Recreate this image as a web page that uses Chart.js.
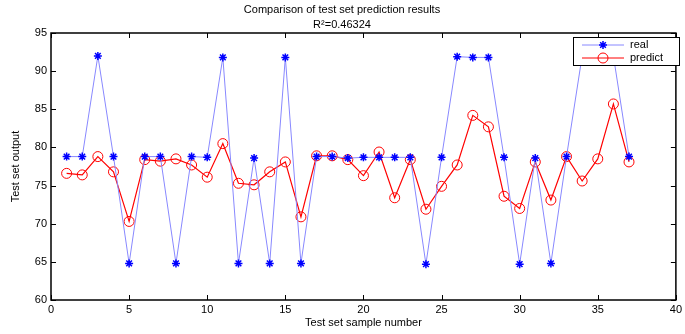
<!DOCTYPE html>
<html>
<head>
<meta charset="utf-8">
<script src="https://cdn.jsdelivr.net/npm/chart.js@4/dist/chart.umd.min.js"></script>
<style>
	html, body { margin: 0; padding: 0; background: #fff; }
	#wrap { width: 685px; height: 334px; }
</style>
</head>
<body>
<div id="wrap"><canvas id="chart" width="685" height="334"></canvas></div>
<script>
// DATA
const samples = [1,2,3,4,5,6,7,8,9,10,11,12,13,14,15,16,17,18,19,20,21,22,23,24,25,26,27,28,29,30,31,32,33,34,35,36,37];
const realValues = [78.8,78.8,92.0,78.8,64.8,78.8,78.8,64.8,78.8,78.7,91.8,64.8,78.6,64.8,91.8,64.8,78.8,78.8,78.6,78.7,78.7,78.7,78.7,64.7,78.7,91.9,91.8,91.8,78.7,64.7,78.6,64.8,78.8,92.0,92.0,92.0,78.8];
const predictValues = [76.6,76.4,78.8,76.8,70.3,78.4,78.2,78.5,77.7,76.1,80.5,75.3,75.1,76.8,78.1,70.9,78.9,78.9,78.4,76.3,79.4,73.4,78.4,71.9,74.9,77.7,84.2,82.7,73.6,72.0,78.1,73.1,78.8,75.6,78.5,85.7,78.1];
const xTicks = [0,5,10,15,20,25,30,35,40];
const yTicks = [60,65,70,75,80,85,90,95];
const r2 = "0.46324";

const FONT = "'Liberation Sans', Arial, sans-serif";

// box, inward ticks and legend like the matlab figure
const boxPlugin = {
	id: "box",
	afterDatasetsDraw(chart) {
		const { ctx, chartArea: a, scales } = chart;
		ctx.save();
		ctx.strokeStyle = "#000";
		ctx.lineWidth = 1.5;
		ctx.strokeRect(a.left, a.top, a.right - a.left, a.bottom - a.top);
		ctx.lineWidth = 1;
		ctx.beginPath();
		xTicks.forEach((t) => {
			const x = Math.round(scales.x.getPixelForValue(t)) + 0.5;
			ctx.moveTo(x, a.bottom); ctx.lineTo(x, a.bottom - 5);
			ctx.moveTo(x, a.top); ctx.lineTo(x, a.top + 5);
		});
		yTicks.forEach((t) => {
			const y = Math.round(scales.y.getPixelForValue(t)) + 0.5;
			ctx.moveTo(a.left, y); ctx.lineTo(a.left + 5, y);
			ctx.moveTo(a.right, y); ctx.lineTo(a.right - 5, y);
		});
		ctx.stroke();

		// legend
		const lx = 573, ly = 37, lw = 106, lh = 28;
		ctx.fillStyle = "#fff";
		ctx.fillRect(lx, ly, lw, lh);
		ctx.strokeStyle = "#000";
		ctx.lineWidth = 1;
		ctx.strokeRect(lx + 0.5, ly + 0.5, lw, lh);
		chart.data.datasets.forEach((ds, i) => {
			const y = ly + 8 + i * 13;
			ctx.strokeStyle = ds.borderColor;
			ctx.lineWidth = 1;
			ctx.beginPath();
			ctx.moveTo(582, y); ctx.lineTo(624, y);
			ctx.stroke();
			ctx.strokeStyle = ds.pointBorderColor;
			ctx.fillStyle = ds.pointBackgroundColor;
			ctx.lineWidth = ds.pointBorderWidth;
			Chart.helpers.drawPoint(ctx, {
				pointStyle: ds.pointStyle,
				radius: ds.pointRadius,
				borderWidth: ds.pointBorderWidth,
			}, 603, y);
			ctx.fillStyle = "#000";
			ctx.font = "11px " + FONT;
			ctx.textBaseline = "middle";
			ctx.textAlign = "left";
			ctx.fillText(ds.label, 630, y);
		});
		ctx.restore();
	},
};

const ctx = document.getElementById("chart").getContext("2d");
new Chart(ctx, {
	type: "line",
	data: {
		datasets: [
			{
				label: "real",
				data: samples.map((s, i) => ({ x: s, y: realValues[i] })),
				borderColor: "#8888ff",
				borderWidth: 1,
				pointStyle: "star",
				pointRadius: 4,
				pointBorderWidth: 1.5,
				pointBorderColor: "#0000ff",
				pointBackgroundColor: "#0000ff",
				tension: 0,
			},
			{
				label: "predict",
				data: samples.map((s, i) => ({ x: s, y: predictValues[i] })),
				borderColor: "#ff0000",
				borderWidth: 1.2,
				pointStyle: "circle",
				pointRadius: 5,
				pointBorderWidth: 1,
				pointBorderColor: "#ff0000",
				pointBackgroundColor: "rgba(0,0,0,0)",
				tension: 0,
			},
		],
	},
	options: {
		responsive: false,
		animation: false,
		layout: { padding: { left: 0, right: 1, top: 0, bottom: 0 } },
		plugins: {
			legend: { display: false },
			tooltip: { enabled: false },
			title: {
				display: true,
				text: ["Comparison of test set prediction results", "R\u00b2=" + r2],
				color: "#000",
				font: { family: FONT, size: 11, weight: "normal", lineHeight: 15 / 11 },
				padding: { top: 2, bottom: 1 },
			},
		},
		scales: {
			x: {
				type: "linear",
				min: 0,
				max: 40,
				afterBuildTicks: (s) => { s.ticks = xTicks.map((v) => ({ value: v })); },
				afterFit: (s) => { s.height = 34; },
				grid: { display: false, drawTicks: false },
				border: { display: false },
				ticks: { color: "#000", font: { family: FONT, size: 11 }, padding: 3, maxRotation: 0 },
				title: { display: true, text: "Test set sample number", color: "#000", font: { family: FONT, size: 11 }, padding: { top: 0, bottom: 4 } },
			},
			y: {
				min: 60,
				max: 95,
				afterBuildTicks: (s) => { s.ticks = yTicks.map((v) => ({ value: v })); },
				afterFit: (s) => { s.width = 51; },
				grid: { display: false, drawTicks: false },
				border: { display: false },
				ticks: { color: "#000", font: { family: FONT, size: 11 }, padding: 4 },
				title: { display: true, text: "Test set output", color: "#000", font: { family: FONT, size: 11 }, padding: { top: 9, bottom: 0 } },
			},
		},
	},
	plugins: [boxPlugin],
});
</script>
</body>
</html>
